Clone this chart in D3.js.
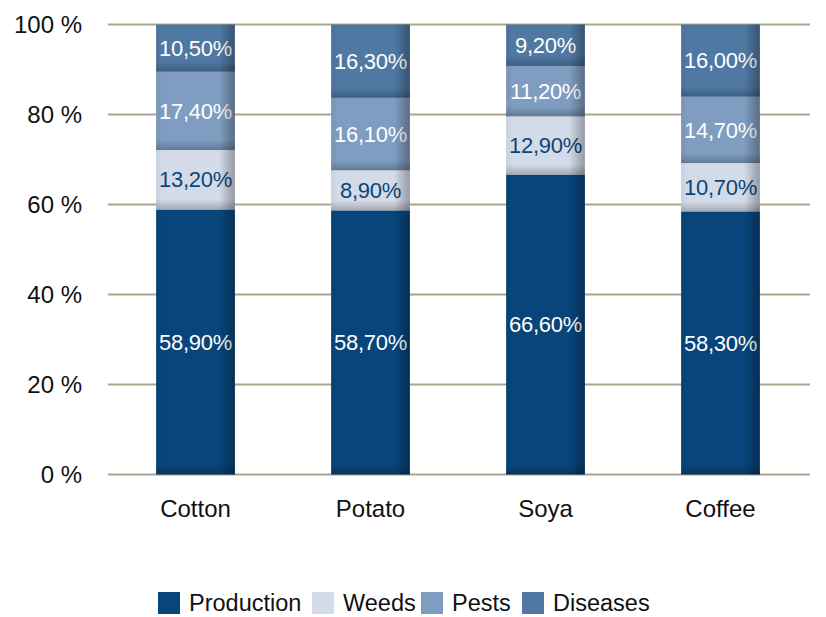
<!DOCTYPE html>
<html>
<head>
<meta charset="utf-8">
<script src="https://cdn.jsdelivr.net/npm/d3@7"></script>
<style>
  body { margin: 0; background: #fff; }
  text { font-family: "Liberation Sans", Arial, sans-serif; }
</style>
</head>
<body>
<div id="chart"></div>
<script>
const crops = ["Cotton", "Potato", "Soya", "Coffee"];
const seriesNames = ["Production", "Weeds", "Pests", "Diseases"];
const production = [58.9, 58.7, 66.6, 58.3];
const weeds = [13.2, 8.9, 12.9, 10.7];
const pests = [17.4, 16.1, 11.2, 14.7];
const diseases = [10.5, 16.3, 9.2, 16.0];
const yTicks = [0, 20, 40, 60, 80, 100];

const colors = ["#08457a", "#d4dbe8", "#7f9dc0", "#4f78a3"];
const labelColors = ["#ffffff", "#0b4577", "#ffffff", "#ffffff"];

const width = 826, height = 617;
const margin = { top: 24.5, right: 16, bottom: 142.5, left: 108 };

const rows = crops.map((c, i) => ({
  crop: c,
  Production: production[i],
  Weeds: weeds[i],
  Pests: pests[i],
  Diseases: diseases[i]
}));

const stacked = d3.stack().keys(seriesNames).offset(d3.stackOffsetExpand)(rows);

const svg = d3.select("#chart").append("svg")
  .attr("width", width)
  .attr("height", height);

const defs = svg.append("defs");
const hGrad = defs.append("linearGradient").attr("id", "edge-shade")
  .attr("x1", "0%").attr("y1", "0%").attr("x2", "100%").attr("y2", "0%");
hGrad.append("stop").attr("offset", "0%").attr("stop-color", "#000").attr("stop-opacity", 0.05);
hGrad.append("stop").attr("offset", "8%").attr("stop-color", "#000").attr("stop-opacity", 0);
hGrad.append("stop").attr("offset", "80%").attr("stop-color", "#000").attr("stop-opacity", 0);
hGrad.append("stop").attr("offset", "100%").attr("stop-color", "#000").attr("stop-opacity", 0.3);

const vGrad = defs.append("linearGradient").attr("id", "bottom-shade")
  .attr("x1", "0%").attr("y1", "0%").attr("x2", "0%").attr("y2", "100%");
vGrad.append("stop").attr("offset", "0%").attr("stop-color", "#000").attr("stop-opacity", 0);
vGrad.append("stop").attr("offset", "100%").attr("stop-color", "#000").attr("stop-opacity", 0.22);

const x = d3.scaleBand()
  .domain(crops)
  .range([margin.left, width - margin.right - 2])
  .paddingInner(0.55)
  .paddingOuter(0.275);

const y = d3.scaleLinear()
  .domain([0, 100])
  .range([height - margin.bottom, margin.top]);

// grid lines
svg.append("g")
  .selectAll("line")
  .data(yTicks)
  .join("line")
  .attr("x1", margin.left)
  .attr("x2", width - margin.right)
  .attr("y1", d => y(d))
  .attr("y2", d => y(d))
  .attr("stroke", "#a9a68f")
  .attr("stroke-width", 2);

// y axis labels
const yAxis = svg.append("g")
  .attr("transform", `translate(${margin.left - 26},0)`)
  .call(d3.axisLeft(y).tickValues(yTicks).tickSize(0).tickPadding(0).tickFormat(d => d + " %"));
yAxis.select(".domain").remove();
yAxis.selectAll("text")
  .attr("font-size", 24)
  .attr("fill", "#111")
  .attr("dy", "0.35em");

// bars
const layers = svg.append("g")
  .selectAll("g")
  .data(stacked)
  .join("g");

layers.each(function(layer, li) {
  const g = d3.select(this);
  const seg = g.selectAll("g").data(layer).join("g");
  seg.append("rect")
    .attr("x", d => x(d.data.crop))
    .attr("y", d => y(d[1] * 100))
    .attr("width", x.bandwidth())
    .attr("height", d => y(d[0] * 100) - y(d[1] * 100))
    .attr("fill", colors[li]);
  seg.append("rect")
    .attr("x", d => x(d.data.crop))
    .attr("y", d => Math.max(y(d[0] * 100) - 10, y(d[1] * 100)))
    .attr("width", x.bandwidth())
    .attr("height", d => Math.min(10, y(d[0] * 100) - y(d[1] * 100)))
    .attr("fill", "url(#bottom-shade)");
});

// right edge shading over whole bar
svg.append("g")
  .selectAll("rect")
  .data(crops)
  .join("rect")
  .attr("x", d => x(d))
  .attr("y", y(100))
  .attr("width", x.bandwidth())
  .attr("height", y(0) - y(100))
  .attr("fill", "url(#edge-shade)");

// value labels
layers.each(function(layer, li) {
  d3.select(this).selectAll("text.val")
    .data(layer)
    .join("text")
    .attr("class", "val")
    .attr("x", d => x(d.data.crop) + x.bandwidth() / 2)
    .attr("y", d => y((d[0] + d[1]) / 2 * 100))
    .attr("dy", "0.35em")
    .attr("text-anchor", "middle")
    .attr("font-size", 22)
    .attr("letter-spacing", -0.3)
    .attr("fill", labelColors[li])
    .text(d => d.data[layer.key].toFixed(2).replace(".", ",") + "%");
});

// x axis labels
const xAxis = svg.append("g")
  .attr("transform", `translate(0,${y(0) + 34})`)
  .call(d3.axisBottom(x).tickSize(0).tickPadding(0));
xAxis.select(".domain").remove();
xAxis.selectAll("text")
  .attr("font-size", 24)
  .attr("fill", "#111")
  .attr("dy", "0.35em");

// legend
const legendX = [158, 312, 421, 522];
const legend = svg.append("g")
  .selectAll("g")
  .data(seriesNames)
  .join("g")
  .attr("transform", (d, i) => `translate(${legendX[i]},592)`);
legend.append("rect")
  .attr("width", 22)
  .attr("height", 22)
  .attr("fill", (d, i) => colors[i]);
legend.append("text")
  .attr("x", 31)
  .attr("y", 19)
  .attr("font-size", 23.5)
  .attr("fill", "#111")
  .text(d => d);
</script>
</body>
</html>
